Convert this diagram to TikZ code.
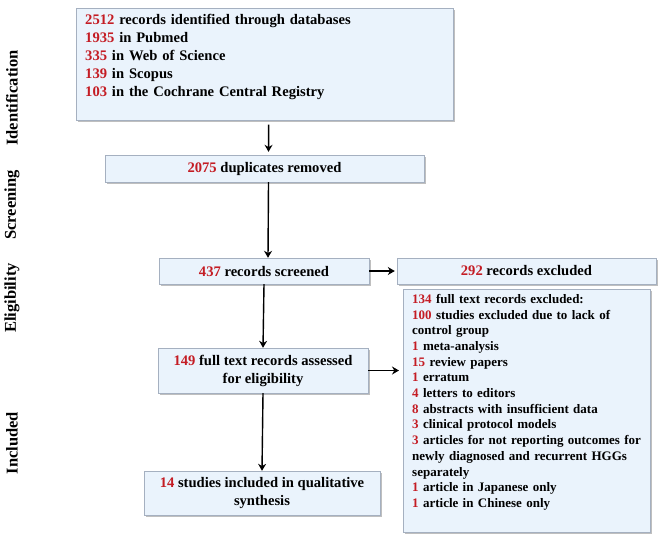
\documentclass[tikz,border=0pt]{standalone}
\usepackage{fontspec}
\setmainfont{Liberation Serif}
\usetikzlibrary{shadows,arrows.meta}

\definecolor{boxfill}{RGB}{234,243,252}
\definecolor{boxline}{RGB}{165,176,192}
\definecolor{numred}{RGB}{196,28,36}
\newcommand{\nr}[1]{\textcolor{numred}{#1}}

\begin{document}
\begin{tikzpicture}[x=1pt,y=-1pt,>={Stealth[length=7pt,width=8pt]},
    box/.style={rectangle, draw=boxline, fill=boxfill, inner sep=0pt, align=center,
      drop shadow={shadow xshift=1.5pt, shadow yshift=-1.5pt, fill=black!50},
      font=\bfseries\fontsize{14.6}{18}\selectfont},
    listbox/.style={box, align=left, anchor=north west, inner xsep=9pt, inner ysep=6pt},
    stage/.style={rotate=90, font=\bfseries\fontsize{16.5}{18}\selectfont},
    flow/.style={->, line width=1.4pt}]
    \useasboundingbox (0,0) rectangle (666,542);
    \node[listbox, text width=359pt] (ident) at (76,8)
      {\nr{2512} records identified through databases\\
       \nr{1935} in Pubmed\\
       \nr{335} in Web of Science\\
       \nr{139} in Scopus\\
       \nr{103} in the Cochrane Central Registry\rule[-18pt]{0pt}{1pt}};
    \node[box, minimum width=319pt, minimum height=27pt] (dup) at (264.5,168.5)
      {\nr{2075} duplicates removed};
    \node[box, minimum width=210pt, minimum height=26pt] (scr) at (264,271)
      {\nr{437} records screened};
    \node[box, minimum width=259pt, minimum height=26pt] (excl) at (526.5,271)
      {\nr{292} records excluded};
    \node[box, minimum width=210pt, minimum height=45pt] (full) at (263,370.5)
      {\nr{149} full text records assessed\\for eligibility};
    \node[box, minimum width=236pt, minimum height=44pt] (incl) at (262,493)
      {\nr{14} studies included in qualitative\\synthesis};
    \node[listbox, text width=229pt, inner ysep=5pt,
      font=\bfseries\fontsize{13}{15.7}\selectfont] (reasons) at (403,289)
      {\nr{134} full text records excluded:\\
       \nr{100} studies excluded due to lack of\\
       control group\\
       \nr{1} meta-analysis\\
       \nr{15} review papers\\
       \nr{1} erratum\\
       \nr{4} letters to editors\\
       \nr{8} abstracts with insufficient data\\
       \nr{3} clinical protocol models\\
       \nr{3} articles for not reporting outcomes for\\
       newly diagnosed and recurrent HGGs\\
       separately\\
       \nr{1} article in Japanese only\\
       \nr{1} article in Chinese only\rule[-20pt]{0pt}{1pt}};
    \node[stage] (lid) at (12,98) {Identification};
    \node[stage] (lscr) at (12,205) {Screening};
    \node[stage] (lelig) at (12,298) {Eligibility};
    \node[stage] (lincl) at (12,443) {Included};
    \draw[flow, shorten <=4pt, shorten >=3pt] ([xshift=4pt]ident.south) -- ([xshift=4pt]dup.north);
    \draw[flow] ([xshift=4pt]dup.south) -- ([xshift=4pt]scr.north);
    \draw[flow, shorten >=2pt] (scr.east) -- (excl.west);
    \draw[flow] (scr.south) -- (full.north);
    \draw[flow, shorten >=4pt] (full.east) -- (full.east -| reasons.west);
    \draw[flow] (full.south) -- (incl.north);
\end{tikzpicture}
\end{document}
